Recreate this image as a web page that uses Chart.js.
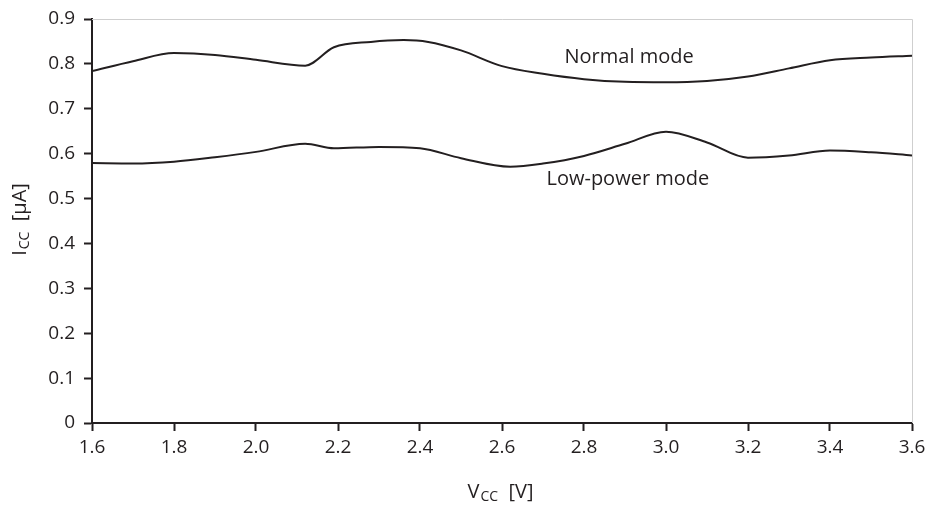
<!DOCTYPE html>
<html>
<head>
<meta charset="utf-8">
<script src="https://cdn.jsdelivr.net/npm/chart.js@4/dist/chart.umd.min.js"></script>
<style>
  html, body { margin: 0; padding: 0; background: #fff; }
  #wrap { width: 926px; height: 512px; }
</style>
</head>
<body>
<div id="wrap"><canvas id="iccChart"></canvas></div>
<script>
'use strict';

// values
let normalX = [1.6, 1.7, 1.8, 1.9, 2.0, 2.12, 2.19, 2.28, 2.36, 2.42, 2.5, 2.6, 2.7, 2.8, 2.9, 3.0, 3.1, 3.2, 3.3, 3.4, 3.5, 3.6];
let normalY = [0.784, 0.806, 0.824, 0.82, 0.809, 0.796, 0.837, 0.849, 0.853, 0.849, 0.83, 0.795, 0.778, 0.766, 0.76, 0.759, 0.762, 0.772, 0.79, 0.808, 0.814, 0.818];

let lowX = [1.6, 1.7, 1.8, 1.9, 2.0, 2.12, 2.19, 2.3, 2.4, 2.5, 2.62, 2.7, 2.8, 2.9, 3.0, 3.1, 3.2, 3.3, 3.4, 3.5, 3.6];
let lowY = [0.579, 0.578, 0.582, 0.592, 0.604, 0.622, 0.612, 0.615, 0.612, 0.59, 0.571, 0.578, 0.595, 0.622, 0.649, 0.625, 0.591, 0.596, 0.607, 0.603, 0.596];

let xTicks = [1.6, 1.8, 2.0, 2.2, 2.4, 2.6, 2.8, 3.0, 3.2, 3.4, 3.6];
let yTicks = [0, 0.1, 0.2, 0.3, 0.4, 0.5, 0.6, 0.7, 0.8, 0.9];

let curveLabels = [
  { text: 'Normal mode', x: 2.91, y: 0.815 },
  { text: 'Low-power mode', x: 2.907, y: 0.543 }
];

function toPoints(xs, ys) {
  let pts = [];
  for (let i = 0; i < xs.length; i++) {
    pts.push({ x: xs[i], y: ys[i] });
  }
  return pts;
}

const ink = '#231f20';

// frame lines, curve names and axis titles with subscripts
const extras = {
  id: 'extras',
  afterDraw(chart) {
    const ctx = chart.ctx;
    const area = chart.chartArea;
    const xs = chart.scales.x;
    const ys = chart.scales.y;
    ctx.save();
    ctx.strokeStyle = '#cfcfcf';
    ctx.lineWidth = 1;
    ctx.beginPath();
    ctx.moveTo(area.left, area.top + 0.5);
    ctx.lineTo(area.right + 0.5, area.top + 0.5);
    ctx.lineTo(area.right + 0.5, area.bottom);
    ctx.stroke();

    ctx.fillStyle = ink;
    ctx.textAlign = 'center';
    ctx.textBaseline = 'middle';
    ctx.font = '20px "Open Sans", sans-serif';
    curveLabels.forEach(function (lbl) {
      ctx.fillText(lbl.text, xs.getPixelForValue(lbl.x), ys.getPixelForValue(lbl.y));
    });

    // x title: V_CC [V]
    drawSubTitle(ctx, 'V', 'CC', '  [V]', 500, 492);

    // y title: I_CC [µA]
    ctx.save();
    ctx.translate(20, 220);
    ctx.rotate(-Math.PI / 2);
    drawSubTitle(ctx, 'I', 'CC', '  [µA]', 0, 0);
    ctx.restore();
    ctx.restore();
  }
};

function drawSubTitle(ctx, main, sub, rest, cx, cy) {
  const bigFont = '20px "Open Sans", sans-serif';
  const smallFont = '14px "Open Sans", sans-serif';
  ctx.font = bigFont;
  const w1 = ctx.measureText(main).width;
  const w3 = ctx.measureText(rest).width;
  ctx.font = smallFont;
  const w2 = ctx.measureText(sub).width;
  let x = cx - (w1 + w2 + w3) / 2;
  ctx.textAlign = 'left';
  ctx.textBaseline = 'middle';
  ctx.font = bigFont;
  ctx.fillText(main, x, cy);
  x += w1 + 1;
  ctx.font = smallFont;
  ctx.fillText(sub, x, cy + 5);
  x += w2;
  ctx.font = bigFont;
  ctx.fillText(rest, x, cy);
}

const config = {
  type: 'line',
  data: {
    datasets: [
      {
        label: 'Normal mode',
        data: toPoints(normalX, normalY),
        borderColor: ink,
        borderWidth: 2,
        pointRadius: 0,
        tension: 0.4,
        cubicInterpolationMode: 'monotone',
        fill: false
      },
      {
        label: 'Low-power mode',
        data: toPoints(lowX, lowY),
        borderColor: ink,
        borderWidth: 2,
        pointRadius: 0,
        tension: 0.4,
        cubicInterpolationMode: 'monotone',
        fill: false
      }
    ]
  },
  options: {
    responsive: true,
    maintainAspectRatio: false,
    animation: false,
    layout: { padding: { left: 0, right: 14, top: 19, bottom: 0 } },
    plugins: {
      legend: { display: false },
      tooltip: { enabled: false }
    },
    scales: {
      x: {
        type: 'linear',
        min: 1.6,
        max: 3.6,
        afterBuildTicks(scale) {
          scale.ticks = xTicks.map(v => ({ value: v }));
        },
        afterFit(scale) {
          scale.height = 89;
          scale.paddingLeft = 0;
          scale.paddingRight = 0;
        },
        ticks: {
          color: ink,
          padding: 5,
          maxRotation: 0,
          font: { family: '"Open Sans", sans-serif', size: 19 },
          callback: v => v.toFixed(1)
        },
        grid: { display: true, drawOnChartArea: false, drawTicks: true, tickLength: 8, tickColor: ink, tickWidth: 2 },
        border: { color: ink, width: 2 }
      },
      y: {
        min: 0,
        max: 0.9,
        afterBuildTicks(scale) {
          scale.ticks = yTicks.map(v => ({ value: v }));
        },
        afterFit(scale) {
          scale.width = 92;
          scale.paddingTop = 0;
          scale.paddingBottom = 0;
        },
        ticks: {
          color: ink,
          padding: 9,
          font: { family: '"Open Sans", sans-serif', size: 19 },
          callback: v => (v === 0 ? '0' : v.toFixed(1))
        },
        grid: { display: true, drawOnChartArea: false, drawTicks: true, tickLength: 8, tickColor: ink, tickWidth: 2 },
        border: { color: ink, width: 2 }
      }
    }
  },
  plugins: [extras]
};

let myChart = new Chart(document.getElementById('iccChart'), config);
</script>
</body>
</html>
